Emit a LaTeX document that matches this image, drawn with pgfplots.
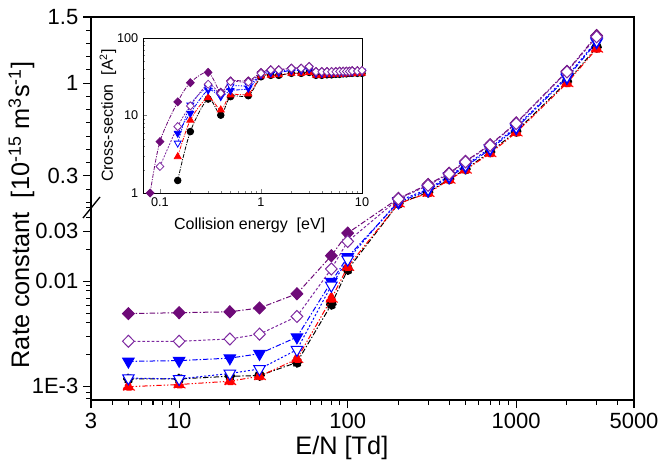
\documentclass[border=0pt]{standalone}
\usepackage{fontspec}
\setmainfont{Liberation Sans}
\usepackage{pgfplots}
\pgfplotsset{compat=1.18}
\definecolor{purF}{RGB}{110,10,120}
\definecolor{purO}{RGB}{125,40,160}
\definecolor{bluC}{RGB}{0,0,255}
\definecolor{redC}{RGB}{255,0,0}
\begin{document}
\begin{tikzpicture}
\begin{axis}[
  name=main,
  at={(0,0)}, anchor=south west, scale only axis,
  width=407.25pt, height=287.25pt,
  xmode=log, xmin=3, xmax=5000,
  xtick={3,10,100,1000,5000}, xticklabels={3,10,100,1000,5000},
  minor xtick={4,5,6,7,8,9,20,30,40,50,60,70,80,90,200,300,400,500,600,700,800,900,2000,3000,4000},
  y coord trafo/.code={\pgfmathparse{#1<0.06 ? 12+106*(ln(#1)*0.4342945+3) : 184.25+132.5*#1}},
  ymin=0.00077, ymax=1.5,
  ytick={0.001,0.01,0.03,0.3,1,1.5}, yticklabels={1E-3,0.01,0.03,0.3,1,1.5},
  minor ytick={0.0008,0.0009,0.002,0.003,0.004,0.005,0.006,0.007,0.008,0.009,0.02,0.04,0.05,0.1,0.2,0.4,0.5,0.6,0.7,0.8,0.9,1.1,1.2,1.3,1.4},
  tick align=outside, tick pos=left,
  major tick length=6pt, minor tick length=3.5pt,
  every tick/.style={black, line width=0.8pt},
  axis line style={line width=0.8pt},
  ticklabel style={font=\fontsize{16.5}{18}\selectfont},
  xlabel={E/N [Td]}, ylabel={Rate constant\ \ [10\textsuperscript{-15} m\textsuperscript{3}s\textsuperscript{-1}]},
  label style={font=\fontsize{19}{22}\selectfont},
  xlabel style={at={(axis description cs:0.462,-0.125)}, anchor=center},
  ylabel style={at={(axis description cs:-0.128,0.483)}, anchor=center},
  clip mode=individual,
  every axis plot/.append style={line width=0.75pt},
]
\addplot[black, dash pattern=on 4pt off 1.5pt on 1pt off 1.5pt, mark=*, mark size=3.6pt] coordinates {
(5,0.00121) (10,0.00121) (20,0.00128) (30,0.0013) (50,0.00173) (80,0.0061) (100,0.013) (200,0.09) (300,0.175) (400,0.275) (500,0.35) (700,0.48) (1000,0.635) (2000,1.01) (3000,1.27)};
\addplot[redC, dash pattern=on 4pt off 1.5pt on 1pt off 1.5pt on 1pt off 1.5pt, mark=triangle*, mark size=5pt] coordinates {
(5,0.00102) (10,0.00107) (20,0.00115) (30,0.00128) (50,0.00186) (80,0.0069) (100,0.0138) (200,0.09) (300,0.17) (400,0.27) (500,0.345) (700,0.47) (1000,0.627) (2000,1.0) (3000,1.26)};
\addplot[bluC, dash pattern=on 4pt off 1.5pt on 1pt off 1.5pt, mark=triangle*, mark size=5pt, mark options={rotate=180, solid}] coordinates {
(5,0.00177) (10,0.0018) (20,0.0019) (30,0.00209) (50,0.0030) (80,0.0100) (100,0.0171) (200,0.10) (300,0.19) (400,0.29) (500,0.37) (700,0.50) (1000,0.66) (2000,1.04) (3000,1.31)};
\addplot[bluC, dash pattern=on 1.5pt off 1.5pt, mark=triangle*, mark size=5pt, mark options={rotate=180, solid, fill=white}] coordinates {
(5,0.00123) (10,0.00121) (20,0.00136) (30,0.0015) (50,0.00228) (80,0.0092) (100,0.0162) (200,0.11) (300,0.20) (400,0.30) (500,0.38) (700,0.51) (1000,0.67) (2000,1.05) (3000,1.32)};
\addplot[purF, dash pattern=on 4pt off 1.5pt on 1pt off 1.5pt, mark=diamond*, mark size=4.5pt, mark options={solid, xscale=1.3}] coordinates {
(5,0.0050) (10,0.0051) (20,0.0052) (30,0.00565) (50,0.0077) (80,0.0176) (100,0.0288) (200,0.13) (300,0.235) (400,0.32) (500,0.41) (700,0.535) (1000,0.70) (2000,1.09) (3000,1.36)};
\addplot[purO, dash pattern=on 2pt off 1.5pt, mark=diamond*, mark size=4.5pt, mark options={solid, xscale=1.3, fill=white}] coordinates {
(5,0.00274) (10,0.00274) (20,0.00288) (30,0.0032) (50,0.0047) (80,0.0132) (100,0.024) (200,0.125) (300,0.228) (400,0.315) (500,0.405) (700,0.53) (1000,0.695) (2000,1.085) (3000,1.35)};
\end{axis}
\draw[black, line width=1pt] ([xshift=-6pt,yshift=136.5pt]main.south west) -- ([xshift=6.75pt,yshift=152.25pt]main.south west);
\begin{axis}[
  at={(39pt,155.25pt)}, anchor=south west, scale only axis,
  width=164.25pt, height=116.25pt,
  xmode=log, ymode=log, xmin=0.068, xmax=10, ymin=1, ymax=100,
  xtick={0.1,1,10}, xticklabels={0.1,1,10},
  ytick={1,10,100}, yticklabels={1,10,100},
  tick align=inside, tick pos=left,
  major tick length=3pt, minor tick length=1.8pt,
  axis background/.style={fill=white},
  axis line style={line width=0.7pt},
  ticklabel style={font=\fontsize{9.5}{11}\selectfont},
  xlabel={Collision energy\ \ [eV]}, ylabel={Cross-section\ \ [A\textsuperscript{2}]},
  label style={font=\fontsize{12}{14}\selectfont},
  xlabel style={at={(axis description cs:0.487,-0.21)}, anchor=center},
  ylabel style={at={(axis description cs:-0.16,0.5)}, anchor=center},
  every axis plot/.append style={line width=0.6pt, smooth},
]
\addplot[black, dash pattern=on 3pt off 1pt on 0.8pt off 1pt, mark=*, mark size=2.5pt, mark options={solid}] coordinates {
(0.15,1.45) (0.2,6.2) (0.3,16.3) (0.4,10.1) (0.5,17.5) (0.75,18) (1,31.6) (1.25,33) (1.5,33) (2,35) (2.5,35) (3,36) (3.5,33) (4,33) (4.5,33.5) (5,33.5) (5.5,34) (6,34) (6.5,34.5) (7,34.5) (7.5,35) (8,35) (9,35) (10,35)};
\addplot[redC, dash pattern=on 3pt off 1pt on 0.8pt off 1pt, mark=triangle*, mark size=3pt, mark options={solid}] coordinates {
(0.15,2.94) (0.2,8.7) (0.3,17) (0.4,11.8) (0.5,18.4) (0.75,19) (1,32.3) (1.25,33) (1.5,33.5) (2,35) (2.5,35) (3,36) (3.5,33) (4,33) (4.5,33.5) (5,33.5) (5.5,34) (6,34) (6.5,34) (7,34.5) (7.5,34.5) (8,34.5) (9,35) (10,35)};
\addplot[bluC, dash pattern=on 3pt off 1pt on 0.8pt off 1pt, mark=triangle*, mark size=3pt, mark options={solid, rotate=180}] coordinates {
(0.15,5.9) (0.2,10.7) (0.3,21.3) (0.4,17.5) (0.5,21) (0.75,22.4) (1,33.4) (1.25,35.5) (1.5,36) (2,38) (2.5,38) (3,39.5) (3.5,35) (4,35) (4.5,35.5) (5,35.5) (5.5,36) (6,36) (6.5,36) (7,36.5) (7.5,36.5) (8,36.5) (9,37) (10,37)};
\addplot[bluC, dash pattern=on 1pt off 1pt, mark=triangle*, mark size=3pt, mark options={solid, rotate=180, fill=white}] coordinates {
(0.15,4.4) (0.2,13.6) (0.3,23) (0.4,18.5) (0.5,24) (0.75,24.5) (1,34.5) (1.25,37) (1.5,37) (2,39) (2.5,39) (3,41) (3.5,36) (4,36) (4.5,36.5) (5,36.5) (5.5,37) (6,37) (6.5,37) (7,37) (7.5,37.5) (8,37.5) (9,37.5) (10,37.5)};
\addplot[purF, dash pattern=on 3pt off 1pt on 0.8pt off 1pt, mark=diamond*, mark size=3pt, mark options={solid, xscale=1.3}] coordinates {
(0.08,1) (0.1,4.6) (0.15,15) (0.2,26.5) (0.3,36) (0.4,20) (0.5,28) (0.75,28) (1,36) (1.25,39) (1.5,39) (2,41) (2.5,41) (3,43) (3.5,37) (4,37) (4.5,37) (5,37) (5.5,37) (6,37.5) (6.5,37.5) (7,37.5) (7.5,37.5) (8,38) (9,38) (10,38)};
\addplot[purO, dash pattern=on 1.5pt off 1pt, mark=diamond*, mark size=3pt, mark options={solid, xscale=1.3, fill=white}] coordinates {
(0.1,2.2) (0.15,7.2) (0.2,13.3) (0.3,25.3) (0.4,19.3) (0.5,27.3) (0.75,27) (1,35) (1.25,38.6) (1.5,38.6) (2,40.6) (2.5,40.6) (3,42.7) (3.5,36.7) (4,36.7) (4.5,36.7) (5,36.7) (5.5,36.7) (6,37) (6.5,37) (7,37) (7.5,37) (8,37.5) (9,37.5) (10,38)};
\end{axis}
\pgfresetboundingbox
\path[use as bounding box] (-68.25pt,-48pt) rectangle (431.25pt,300pt);
\end{tikzpicture}
\end{document}
